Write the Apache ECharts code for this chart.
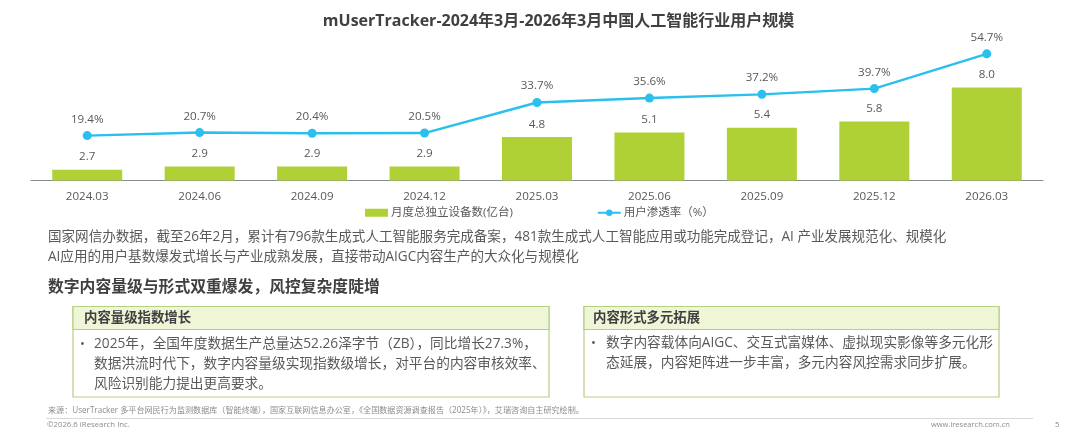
<!DOCTYPE html>
<html><head><meta charset="utf-8">
<style>html,body{margin:0;padding:0;background:#fff}#c{width:1080px;height:444px}</style>
<script src="https://cdn.jsdelivr.net/npm/echarts@6/dist/echarts.min.js"></script></head>
<body><div id="c"></div>
<script>
const categories=['2024.03','2024.06','2024.09','2024.12','2025.03','2025.06','2025.09','2025.12','2026.03'];
const devices=[2.7,2.9,2.9,2.9,4.8,5.1,5.4,5.8,8.0];
const penetration=[19.4,20.7,20.4,20.5,33.7,35.6,37.2,39.7,54.7];
const titleText='mUserTracker-2024年3月-2026年3月中国人工智能行业用户规模';
const barName='月度总独立设备数(亿台)';
const lineName='用户渗透率（%）';
const FONT='"Open Sans","Noto Sans CJK SC",sans-serif';
const T='#595959';
function txt(x,y,s,size,extra){return {type:'text',x:x,y:y,silent:true,style:Object.assign({text:s,font:(extra&&extra.w||'400')+' '+size+'px '+FONT,fill:extra&&extra.c||T,textVerticalAlign:'middle',textAlign:extra&&extra.a||'left'})};}
function box(x,y,w,h,hh){return [
 {type:'rect',shape:{x:x,y:y,width:w,height:h},style:{fill:'#fff',stroke:'#b5cf83',lineWidth:1.2}},
 {type:'rect',shape:{x:x,y:y,width:w,height:hh},style:{fill:'#eff6d8',stroke:'#b5cf83',lineWidth:1.2}}];}
const graphics=[].concat(
 [txt(48,237,'国家网信办数据，截至26年2月，累计有796款生成式人工智能服务完成备案，481款生成式人工智能应用或功能完成登记，AI 产业发展规范化、规模化',13.55),
  txt(48,257,'AI应用的用户基数爆发式增长与产业成熟发展，直接带动AIGC内容生产的大众化与规模化',13.55),
  txt(48,287.5,'数字内容量级与形式双重爆发，风控复杂度陡增',15.8,{w:'700',c:'#404040'})],
 box(73,306.5,476,90.5,23),box(584,306.5,415,90.5,23),
 [txt(84,318,'内容量级指数增长',13.4,{w:'700',c:'#404040'}),
  txt(593,318,'内容形式多元拓展',13.4,{w:'700',c:'#404040'}),
  txt(80,344,'•',13),txt(94,344,'2025年，全国年度数据生产总量达52.26泽字节（ZB），同比增长27.3%，',13.7),
  txt(94,364,'数据洪流时代下，数字内容量级实现指数级增长，对平台的内容审核效率、',13.7),
  txt(94,384,'风险识别能力提出更高要求。',13.7),
  txt(591,343,'•',13),txt(606,343,'数字内容载体向AIGC、交互式富媒体、虚拟现实影像等多元化形',13.7),
  txt(606,363,'态延展，内容矩阵进一步丰富，多元内容风控需求同步扩展。',13.7),
  txt(48,411,'来源：UserTracker 多平台网民行为监测数据库（智能终端），国家互联网信息办公室，《全国数据资源调查报告（2025年）》，艾瑞咨询自主研究绘制。',8.1,{c:'#8c8c8c'}),
  {type:'line',shape:{x1:46,y1:418.5,x2:1033,y2:418.5},style:{stroke:'#d9d9d9',lineWidth:1}},
  txt(47,425,'©2026.6 iResearch Inc.',7.8,{c:'#8c8c8c'}),
  txt(931,425,'www.iresearch.com.cn',7.5,{c:'#8c8c8c'}),
  txt(1055,425,'5',8,{c:'#8c8c8c'})]
);
const chart=echarts.init(document.getElementById('c'),null,{renderer:'canvas'});
chart.setOption({
 animation:false,
 textStyle:{fontFamily:FONT},
 title:{text:titleText,left:553.5,top:8,textAlign:'center',textStyle:{fontFamily:FONT,fontSize:16,fontWeight:700,color:'#404040'}},
 grid:{left:31,right:37,top:30,height:150.5,containLabel:false},
 legend:{left:360,top:202,itemGap:84,itemWidth:23,itemHeight:8,textStyle:{fontFamily:FONT,fontSize:11.5,color:T,padding:[0,0,0,-2]},data:[{name:barName,icon:'rect'},{name:lineName}]},
 xAxis:{type:'category',data:categories,axisTick:{show:false},axisLine:{lineStyle:{color:'#8c8c8c',width:1}},axisLabel:{color:T,fontSize:11.6,margin:10,fontFamily:FONT}},
 yAxis:[{type:'value',min:2,max:11.7,show:false},{type:'value',min:0,max:65,show:false}],
 series:[
  {name:barName,type:'bar',data:devices,yAxisIndex:0,barWidth:70,itemStyle:{color:'#afd136'},label:{show:true,position:'top',distance:7,fontSize:11.6,color:T,fontFamily:FONT,formatter:p=>p.value.toFixed(1)}},
  {name:lineName,type:'line',data:penetration,yAxisIndex:1,symbol:'circle',symbolSize:9,lineStyle:{color:'#29c0ee',width:2.4},itemStyle:{color:'#29c0ee'},label:{show:true,position:'top',distance:6,fontSize:11.6,color:T,fontFamily:FONT,formatter:p=>p.value.toFixed(1)+'%'}}
 ],
 graphic:{elements:graphics}
});
</script></body></html>
